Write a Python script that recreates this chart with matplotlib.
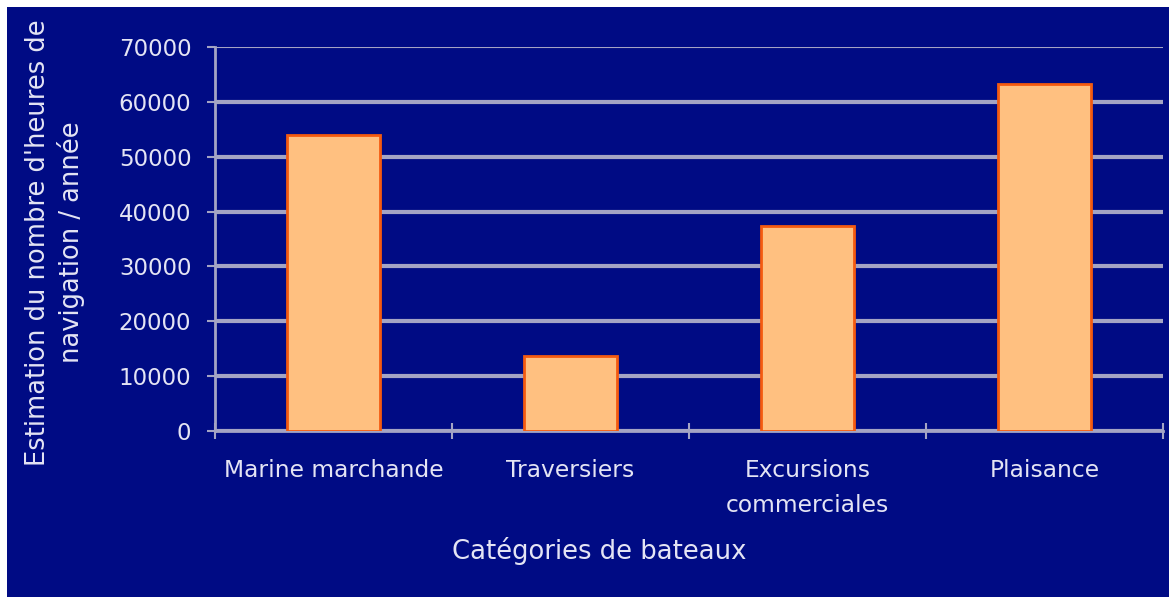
# Heures de navigation estimées par catégorie de bateaux
import matplotlib.pyplot as plt
from matplotlib.patches import Rectangle

categories = ['Marine marchande', 'Traversiers', 'Excursions\ncommerciales', 'Plaisance']
heures = [54000, 13700, 37400, 63300]
yticks = [0, 10000, 20000, 30000, 40000, 50000, 60000, 70000]

fond = '#000b84'
texte = '#e4e4f4'
grille = '#a4a4c4'

fig = plt.figure(figsize=(11.69, 5.97), dpi=100, facecolor='white')
# cadre bleu marine
fig.patches.append(Rectangle((7 / 1169, 0), 1 - 7 / 1169, 1 - 7 / 597,
                             transform=fig.transFigure, facecolor=fond,
                             edgecolor='none', zorder=-5))

ax = fig.add_axes([0.1839, 0.278, 0.811, 0.6433])
ax.set_facecolor(fond)

x = range(len(categories))
ax.bar(x, heures, width=0.39, color='#ffc080', edgecolor='#f45a10',
       linewidth=2, zorder=3)

ax.set_xlim(-0.5, len(categories) - 0.5)
ax.set_ylim(0, 70000)
ax.set_yticks(yticks)
ax.set_yticklabels([str(v) for v in yticks])
ax.yaxis.grid(True, color=grille, linewidth=3, zorder=1)
ax.yaxis.get_gridlines()[-1].set_linewidth(1.5)
ax.set_axisbelow(True)

# graduations de l'axe x entre les catégories
ax.set_xticks([i - 0.5 for i in range(len(categories) + 1)])
ax.set_xticklabels([])
ax.set_xticks(list(x), minor=True)
ax.set_xticklabels(categories, minor=True, fontsize=16.8, color=texte,
                   linespacing=1.7)
ax.tick_params(axis='x', which='major', direction='inout', length=12,
               width=1.5, color=grille)
ax.tick_params(axis='x', which='minor', length=0, pad=20)
ax.tick_params(axis='y', direction='out', length=6, width=1.5, color=grille,
               labelsize=16.5, labelcolor=texte, pad=11)

for s in ['top', 'right']:
    ax.spines[s].set_visible(False)
for s in ['left', 'bottom']:
    ax.spines[s].set_color(grille)
    ax.spines[s].set_linewidth(2)

fig.text(599 / 1169, 1 - 551 / 597, 'Catégories de bateaux', ha='center',
         va='center', fontsize=18.6, color=texte)
fig.text(0.047, 0.594, "Estimation du nombre d'heures de\nnavigation / année",
         rotation=90, ha='center', va='center', fontsize=18.5, color=texte,
         linespacing=1.25)

fig.savefig('out.png', dpi=100, facecolor='white')
